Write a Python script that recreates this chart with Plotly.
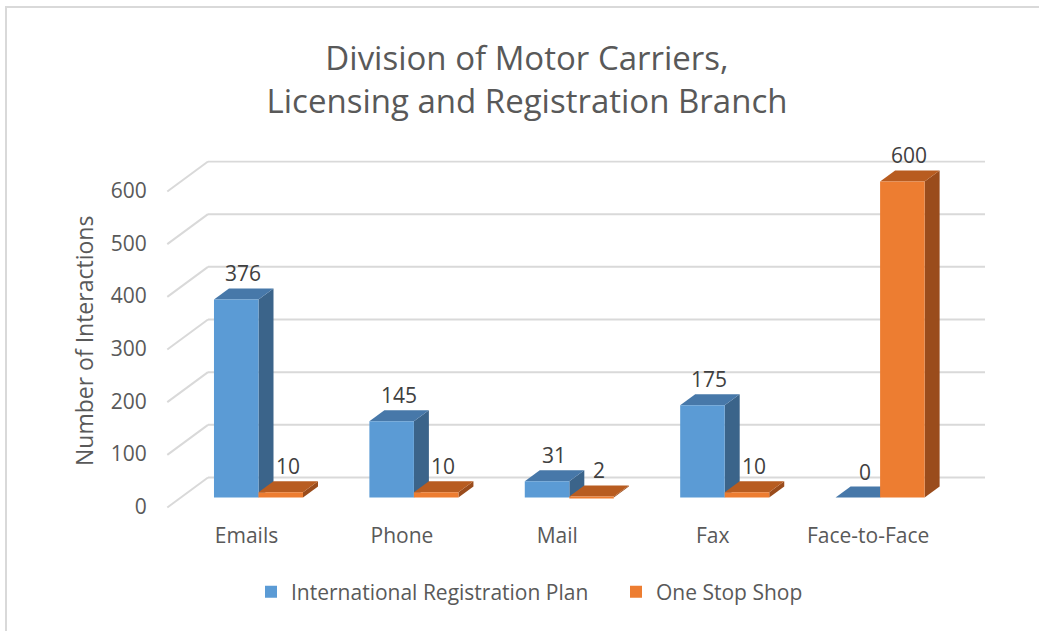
import plotly.graph_objects as go

# ---------------- data ----------------
categories = ["Emails", "Phone", "Mail", "Fax", "Face-to-Face"]
irp_values = [376, 145, 31, 175, 0]
oss_values = [10, 10, 2, 10, 600]
series_names = ["International Registration Plan", "One Stop Shop"]
y_ticks = [0, 100, 200, 300, 400, 500, 600]
title_text = "Division of Motor Carriers,<br>Licensing and Registration Branch"
y_title = "Number of Interactions"

# ---------------- style / geometry ----------------
W, H = 1039, 631
FONT = "Open Sans"
TXT = "#595959"
GRID = "#d9d9d9"
front_cols = ["#5B9BD5", "#ED7D31"]
top_cols = ["#4778A9", "#B85C20"]
side_cols = ["#3B648A", "#9A4C1C"]

X_UNIT_PX = 155.4          # pixels per category
X_LEFT_PX = 180.8          # pixel of x = -0.5 on the front plane
Y_UNIT_PX = 0.5267         # pixels per value unit
Y_ZERO_PX = 497.5          # pixel of value 0 on the front plane
X_RANGE = [-0.7, 4.8]
Y_RANGE = [-45, 640]

dom_l = X_LEFT_PX + (X_RANGE[0] + 0.5) * X_UNIT_PX
dom_r = X_LEFT_PX + (X_RANGE[1] + 0.5) * X_UNIT_PX
dom_b = Y_ZERO_PX - Y_RANGE[0] * Y_UNIT_PX
dom_t = Y_ZERO_PX - Y_RANGE[1] * Y_UNIT_PX
x_domain = [dom_l / W, dom_r / W]
y_domain = [(H - dom_b) / H, (H - dom_t) / H]

def px2x(p):
    return p / X_UNIT_PX

def px2y(p):
    return p / Y_UNIT_PX

BAR_W = 0.2865             # width of one bar in category units
DEPTH_X, DEPTH_Y = px2x(15), px2y(11)      # bar depth
WALL_X, WALL_Y = px2x(27.2), px2y(20)      # back wall offset from bar fronts
FLOOR_X, FLOOR_Y = px2x(-13.5), px2y(-10)  # floor front edge offset

fig = go.Figure()
all_vals = [irp_values, oss_values]
for s in range(2):
    fig.add_trace(go.Bar(
        x=list(range(len(categories))), y=all_vals[s], name=series_names[s],
        marker=dict(color=front_cols[s], line=dict(width=0)),
        hoverinfo="skip",
    ))

shapes = []
# back wall gridlines and diagonal floor ticks
for v in y_ticks:
    shapes.append(dict(type="line", xref="x", yref="y", layer="below",
                       x0=-0.5 + WALL_X, x1=4.5 + WALL_X,
                       y0=v + WALL_Y, y1=v + WALL_Y,
                       line=dict(color=GRID, width=2)))
    shapes.append(dict(type="line", xref="x", yref="y", layer="below",
                       x0=-0.5 + WALL_X, x1=-0.5 + FLOOR_X,
                       y0=v + WALL_Y, y1=v + FLOOR_Y,
                       line=dict(color=GRID, width=2)))

annotations = []
for s in range(2):
    for i, v in enumerate(all_vals[s]):
        xl = i - BAR_W + s * BAR_W
        xr = xl + BAR_W
        # right side face
        shapes.append(dict(
            type="path", xref="x", yref="y", layer="below",
            path=f"M{xr},0 L{xr + DEPTH_X},{DEPTH_Y} L{xr + DEPTH_X},{v + DEPTH_Y} L{xr},{v} Z",
            fillcolor=side_cols[s], line=dict(width=0)))
        # top face
        shapes.append(dict(
            type="path", xref="x", yref="y", layer="below",
            path=f"M{xl},{v} L{xr},{v} L{xr + DEPTH_X},{v + DEPTH_Y} L{xl + DEPTH_X},{v + DEPTH_Y} Z",
            fillcolor=top_cols[s], line=dict(width=0)))
        annotations.append(dict(
            x=(xl + xr) / 2, y=v, xref="x", yref="y", text=str(v),
            showarrow=False, xshift=7, yshift=26, yanchor="middle",
            font=dict(family=FONT, size=21, color="#404040")))

# chart border
shapes.append(dict(type="rect", xref="paper", yref="paper",
                   x0=6 / W, x1=1.02, y0=-0.02, y1=(H - 7) / H,
                   line=dict(color=GRID, width=2), layer="below"))

fig.update_layout(
    width=W, height=H,
    margin=dict(l=0, r=0, t=0, b=0),
    paper_bgcolor="white", plot_bgcolor="rgba(0,0,0,0)",
    barmode="group", bargap=1 - 2 * BAR_W, bargroupgap=0,
    title=dict(text=title_text, x=527 / W, xanchor="center",
               y=(H - 70) / H, yanchor="middle",
               font=dict(family=FONT, size=33, color=TXT)),
    xaxis=dict(domain=x_domain, range=X_RANGE, showgrid=False, zeroline=False,
               showline=False, tickvals=list(range(len(categories))),
               ticktext=categories, ticks="", ticklabelshift=-12,
               ticklabelstandoff=0,
               tickfont=dict(family=FONT, size=21, color=TXT), fixedrange=True),
    yaxis=dict(domain=y_domain, range=Y_RANGE, showgrid=False, zeroline=False,
               showline=False, tickvals=y_ticks, ticks="", ticklabelshift=9,
               ticklabelstandoff=2,
               tickfont=dict(family=FONT, size=21, color=TXT),
               title=dict(text=y_title, standoff=10,
                          font=dict(family=FONT, size=23, color=TXT)),
               fixedrange=True),
    legend=dict(orientation="h", x=616 / W, xanchor="center",
                y=(H - 592) / H, yanchor="middle",
                font=dict(family=FONT, size=21, color=TXT),
                itemwidth=30, entrywidth=320, entrywidthmode="pixels",
                itemclick=False, itemdoubleclick=False),
    shapes=shapes, annotations=annotations,
    showlegend=True,
)

fig.write_html("out.html", config={"displayModeBar": False},
               post_script="document.body.style.margin='0';")
